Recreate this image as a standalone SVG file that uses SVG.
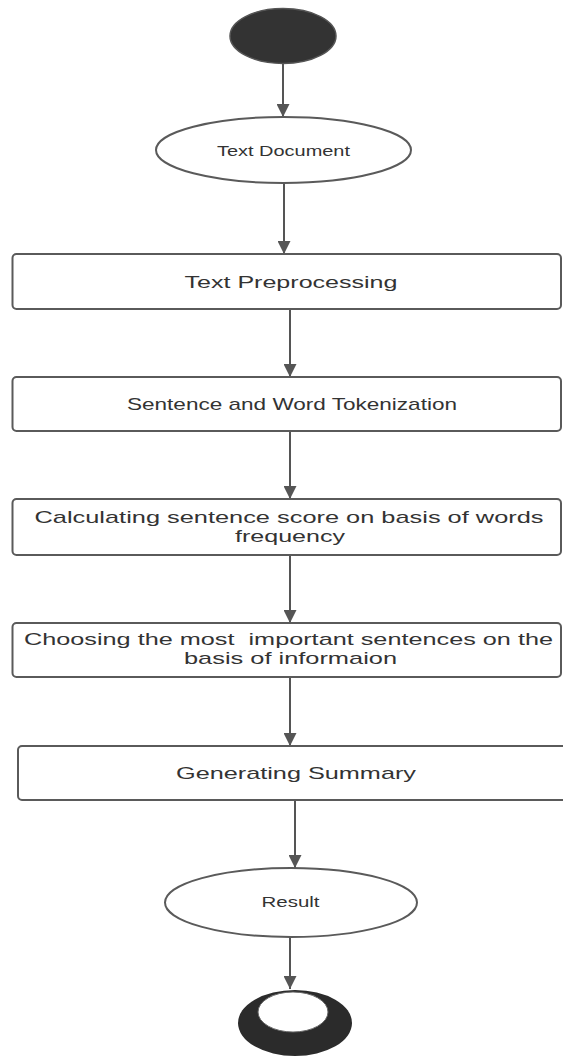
<svg xmlns="http://www.w3.org/2000/svg" width="563" height="1057" viewBox="0 0 563 1057">
  <defs>
    <marker id="arrow" markerUnits="userSpaceOnUse" markerWidth="13" markerHeight="13" viewBox="0 0 13 13" refX="13" refY="6.5" orient="auto">
      <path d="M0,0 L13,6.5 L0,13 Z" fill="#555"/>
    </marker>
    <style>
      .box { fill: #fff; stroke: #5a5a5a; stroke-width: 2; }
      .oval { fill: #fff; stroke: #5a5a5a; stroke-width: 2; }
      .lbl { font-family: "Liberation Sans", Arial, sans-serif; font-size: 17px; fill: #333; text-anchor: middle; }
      .lbl-s { font-family: "Liberation Sans", Arial, sans-serif; font-size: 14px; fill: #333; text-anchor: middle; }
      .edge { stroke: #555; stroke-width: 2; fill: none; marker-end: url(#arrow); }
    </style>
  </defs>
  <rect width="563" height="1057" fill="#fff"/>

  <!-- flow arrows -->
  <g id="connectors">
    <line class="edge" x1="283" y1="63" x2="283" y2="117"/>
    <line class="edge" x1="284" y1="183" x2="284" y2="254"/>
    <line class="edge" x1="290" y1="309" x2="290" y2="377"/>
    <line class="edge" x1="290" y1="431" x2="290" y2="499"/>
    <line class="edge" x1="290" y1="555" x2="290" y2="623"/>
    <line class="edge" x1="290" y1="677" x2="290" y2="746"/>
    <line class="edge" x1="295" y1="800" x2="295" y2="868"/>
    <line class="edge" x1="290" y1="937" x2="290" y2="989"/>
  </g>

  <!-- initial state -->
  <g id="start">
    <ellipse cx="283" cy="36" rx="53" ry="27.5" fill="#333" stroke="#555" stroke-width="1.5"/>
  </g>

  <g id="text-document">
    <ellipse class="oval" cx="283.5" cy="150" rx="127.5" ry="33"/>
    <text class="lbl-s" x="283.5" y="156" textLength="133" lengthAdjust="spacingAndGlyphs">Text Document</text>
  </g>

  <g id="preprocessing">
    <rect class="box" x="12.5" y="254" width="548.5" height="55" rx="4"/>
    <text class="lbl" x="291" y="288" textLength="213" lengthAdjust="spacingAndGlyphs">Text Preprocessing</text>
  </g>

  <g id="tokenization">
    <rect class="box" x="12.5" y="377" width="548.5" height="54" rx="4"/>
    <text class="lbl" x="292" y="410" textLength="330" lengthAdjust="spacingAndGlyphs">Sentence and Word Tokenization</text>
  </g>

  <g id="sentence-score">
    <rect class="box" x="12.5" y="499" width="548.5" height="56" rx="4"/>
    <text class="lbl" x="289" y="523" textLength="509" lengthAdjust="spacingAndGlyphs">Calculating sentence score on basis of words</text>
    <text class="lbl" x="290" y="541.5" textLength="110" lengthAdjust="spacingAndGlyphs">frequency</text>
  </g>

  <g id="important-sentences">
    <rect class="box" x="12.5" y="623" width="548.5" height="54" rx="4"/>
    <text class="lbl" x="288.5" y="645" textLength="529" lengthAdjust="spacingAndGlyphs" xml:space="preserve">Choosing the most  important sentences on the</text>
    <text class="lbl" x="290.5" y="663.5" textLength="213" lengthAdjust="spacingAndGlyphs">basis of informaion</text>
  </g>

  <g id="summary">
    <rect class="box" x="18" y="746" width="550" height="54" rx="4"/>
    <text class="lbl" x="296" y="779" textLength="240" lengthAdjust="spacingAndGlyphs">Generating Summary</text>
  </g>

  <g id="result">
    <ellipse class="oval" cx="291" cy="902.5" rx="126" ry="34.5"/>
    <text class="lbl-s" x="290.5" y="907" textLength="58" lengthAdjust="spacingAndGlyphs">Result</text>
  </g>

  <!-- final state -->
  <g id="end">
    <ellipse cx="295" cy="1023" rx="57" ry="33" fill="#2b2b2b"/>
    <ellipse cx="293" cy="1012" rx="35" ry="20" fill="#fff" stroke="#666" stroke-width="1"/>
  </g>
</svg>
